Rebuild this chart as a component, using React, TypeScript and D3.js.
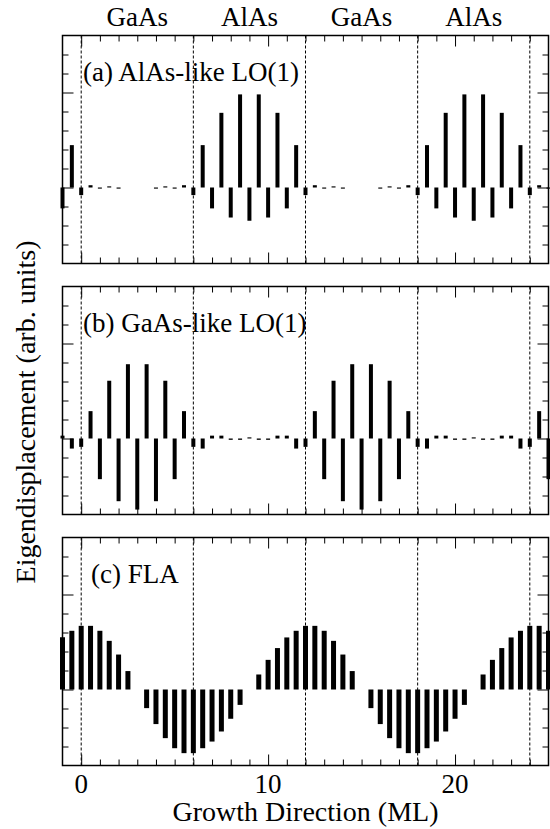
// import d3 and react hooks
import * as d3 from "d3";
import { useRef, useEffect } from "react";

// atom positions along the growth direction (ML)
const positions = [
  -1, -0.5, 0, 0.5, 1, 1.5, 2, 2.5, 3, 3.5, 4, 4.5, 5, 5.5, 6, 6.5, 7, 7.5,
  8, 8.5, 9, 9.5, 10, 10.5, 11, 11.5, 12, 12.5, 13, 13.5, 14, 14.5, 15, 15.5,
  16, 16.5, 17, 17.5, 18, 18.5, 19, 19.5, 20, 20.5, 21, 21.5, 22, 22.5, 23,
  23.5, 24, 24.5, 25,
];

// (a) AlAs-like LO(1)
const alasLO = [
  -1.1, 2.23, -0.4, 0.12, -0.06, 0.06, -0.06, 0, 0, 0, -0.06, 0.06, -0.06, 0.12,
  -0.4, 2.23, -1.1, 3.93, -1.58, 4.9, -1.75, 4.9, -1.58, 3.93, -1.1, 2.23,
  -0.4, 0.12, -0.06, 0.06, -0.06, 0, 0, 0, -0.06, 0.06, -0.06, 0.12, -0.4,
  2.23, -1.1, 3.93, -1.58, 4.9, -1.75, 4.9, -1.58, 3.93, -1.1, 2.23, -0.4,
  0.12, -0.06,
];

// (b) GaAs-like LO(1)
const gaasLO = [
  0.15, -0.53, -0.44, 1.44, -2.14, 3.04, -3.3, 3.91, -3.74, 3.91, -3.3, 3.04,
  -2.14, 1.44, -0.44, -0.53, 0.15, 0.15, -0.07, -0.07, 0.06, -0.07, -0.07,
  0.15, 0.15, -0.53, -0.44, 1.44, -2.14, 3.04, -3.3, 3.91, -3.74, 3.91, -3.3,
  3.04, -2.14, 1.44, -0.44, -0.53, 0.15, 0.15, -0.07, -0.07, 0.06, -0.07,
  -0.07, 0.15, 0.15, -0.53, -0.44, 1.44, -2.14,
];

// (c) FLA
const fla = [
  2.75, 3.09, 3.35, 3.35, 3.09, 2.56, 1.84, 0.97, 0, -0.98, -1.82, -2.56,
  -3.09, -3.35, -3.35, -3.09, -2.74, -2.21, -1.54, -0.81, 0, 0.79, 1.56, 2.18,
  2.74, 3.09, 3.35, 3.35, 3.09, 2.56, 1.84, 0.97, 0, -0.98, -1.82, -2.56,
  -3.09, -3.35, -3.35, -3.09, -2.74, -2.21, -1.54, -0.81, 0, 0.79, 1.56, 2.18,
  2.74, 3.09, 3.35, 3.35, 3.09,
];

const panelTitles = ["(a) AlAs-like LO(1)", "(b) GaAs-like LO(1)", "(c) FLA"];
const panelSeries = [alasLO, gaasLO, fla];

// layer labels on top and interfaces
const layerLabels = ["GaAs", "AlAs", "GaAs", "AlAs"];
const layerCenters = [3, 9, 15, 21];
const interfaces = [0, 6, 12, 18, 24];
const xTickLabels = [0, 10, 20];

export default function App() {
  const svgRef = useRef(null);

  useEffect(() => {
    const svg = d3.select(svgRef.current);
    svg.selectAll("*").remove();

    const left = 62.5, right = 548.5;
    const panelH = 228, gap = 23, top0 = 35.5;
    const tops = [top0, top0 + panelH + gap, top0 + 2 * (panelH + gap)];

    const x = d3.scaleLinear().domain([-1, 25]).range([left, right]);
    const minorX = d3.range(0, 25).filter(v => v % 10 !== 0);
    const majorX = [0, 10, 20];
    const minorY = d3.range(-3, 8).filter(v => v % 5 !== 0);
    const majorY = [0, 5];

    panelSeries.forEach((series, i) => {
      const top = tops[i];
      const bottom = top + panelH;
      const y = d3.scaleLinear().domain([-4, 8]).range([bottom, top]);
      const g = svg.append("g");
      const barW = i === 2 ? 5 : 4;

      // dashed interface lines
      g.selectAll("line.iface").data(interfaces).join("line")
        .attr("x1", d => x(d)).attr("x2", d => x(d))
        .attr("y1", top).attr("y2", bottom)
        .attr("stroke", "black").attr("stroke-width", 1)
        .attr("stroke-dasharray", "3,2");

      // bars
      g.selectAll("rect.bar").data(positions).join("rect")
        .attr("x", d => x(d) - barW / 2)
        .attr("y", (d, k) => y(Math.max(series[k], 0)))
        .attr("width", barW)
        .attr("height", (d, k) => Math.abs(y(series[k]) - y(0)))
        .attr("fill", "black");

      // ticks
      const tick = (axis, tf, vals, size) =>
        g.append("g").attr("transform", tf)
          .call(axis.tickValues(vals).tickSize(size).tickFormat(() => ""))
          .call(s => s.select(".domain").remove())
          .call(s => s.selectAll("line").attr("stroke-width", 1));
      tick(d3.axisBottom(x), `translate(0,${bottom})`, minorX, -6);
      tick(d3.axisBottom(x), `translate(0,${bottom})`, majorX, -11);
      tick(d3.axisTop(x), `translate(0,${top})`, minorX, -6);
      tick(d3.axisTop(x), `translate(0,${top})`, majorX, -11);
      tick(d3.axisLeft(y), `translate(${left},0)`, minorY, -6);
      tick(d3.axisLeft(y), `translate(${left},0)`, majorY, -11);
      tick(d3.axisRight(y), `translate(${right},0)`, minorY, -6);
      tick(d3.axisRight(y), `translate(${right},0)`, majorY, -11);

      // frame
      g.append("rect").attr("x", left).attr("y", top)
        .attr("width", right - left).attr("height", panelH)
        .attr("fill", "none").attr("stroke", "black").attr("stroke-width", 1.5);

      // panel title
      g.append("text").attr("class", "lbl").attr("x", i === 2 ? 91 : 83).attr("y", top + 45)
        .attr("font-size", 27).text(panelTitles[i]);
    });

    // layer labels on top
    svg.selectAll("text.layer").data(layerLabels).join("text")
      .attr("class", "lbl")
      .attr("x", (d, i) => x(layerCenters[i])).attr("y", 26)
      .attr("text-anchor", "middle")
      .attr("font-size", 27).text(d => d);

    // x tick labels
    const bottom = tops[2] + panelH;
    svg.selectAll("text.xt").data(xTickLabels).join("text")
      .attr("class", "lbl")
      .attr("x", d => x(d)).attr("y", bottom + 27)
      .attr("text-anchor", "middle")
      .attr("font-size", 27).text(d => d);

    // axis titles
    svg.append("text").attr("class", "lbl").attr("x", (left + right) / 2).attr("y", 821)
      .attr("text-anchor", "middle")
      .attr("font-size", 28).text("Growth Direction (ML)");
    svg.append("text").attr("class", "lbl").attr("transform", "translate(35,412) rotate(-90)")
      .attr("text-anchor", "middle")
      .attr("font-size", 28).text("Eigendisplacement (arb. units)");

    svg.selectAll("text.lbl")
      .style("font-family", '"Liberation Serif"')
      .attr("fill", "black");
  }, []);

  return (
    <svg ref={svgRef} width={550} height={829}
      style={{ position: "absolute", left: 0, top: 0, background: "white" }} />
  );
}
